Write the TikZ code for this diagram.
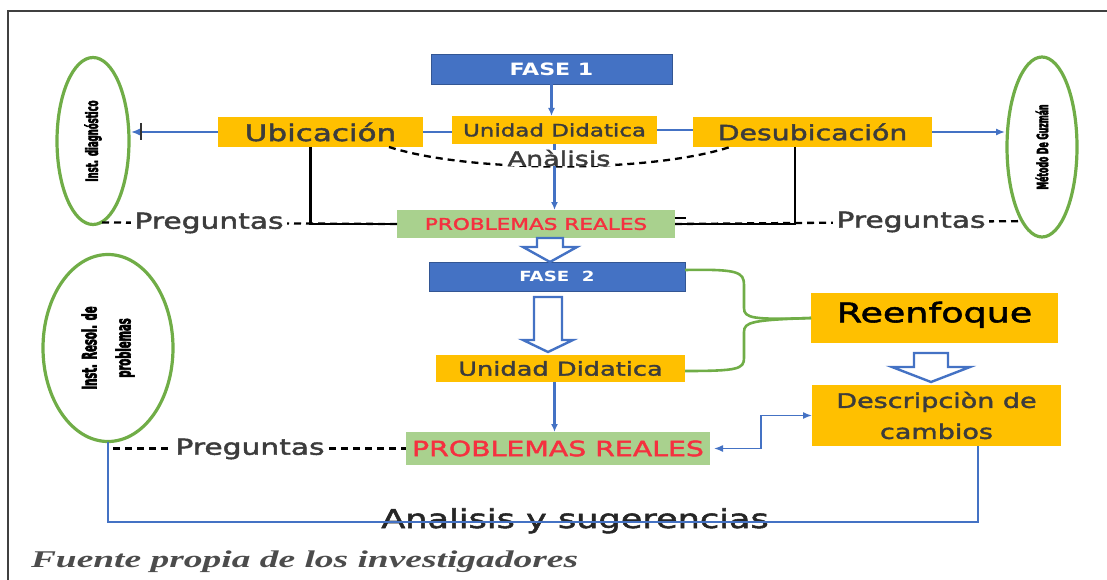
\documentclass[tikz,border=0pt]{standalone}
\usepackage{fontspec}
\usetikzlibrary{calc,arrows.meta,shapes.geometric}
\newfontfamily\wideF[FakeStretch=1.35,FakeBold=2]{DejaVu Sans}
\newfontfamily\wideB[FakeStretch=1.3]{DejaVu Sans Bold}
\newfontfamily\condF[FakeStretch=0.5,FakeBold=3]{DejaVu Sans Bold}
\newfontfamily\fuenteF[FakeStretch=1.56]{Liberation Serif Bold Italic}
\definecolor{oblue}{HTML}{4472C4}
\definecolor{oorange}{HTML}{FFC000}
\definecolor{ogreen}{HTML}{70AD47}
\definecolor{lgreen}{HTML}{A9D18E}
\definecolor{wgray}{HTML}{3C3C3C}
\definecolor{pred}{HTML}{F5303F}
\newcommand\hollowarrow[5]{%
  \draw[hollow] ($(#1)+(-#3,0)$) -- ($(#2)+(-#3,-#5)$) -- ($(#2)+(-#4,-#5)$) -- (#2)
    -- ($(#2)+(#4,-#5)$) -- ($(#2)+(#3,-#5)$) -- ($(#1)+(#3,0)$) -- cycle;}
\begin{document}
\begin{tikzpicture}[x=1pt,y=-1pt,
  every node/.style={inner sep=0pt,outer sep=0pt},
  faseb/.style={rectangle,fill=oblue,draw=oblue!75!black,line width=0.8pt,text=white},
  obox/.style={rectangle,fill=oorange,text=wgray},
  gbox/.style={rectangle,fill=lgreen,text=pred},
  oval/.style={ellipse,draw=ogreen,line width=3.2pt},
  ovaltext/.style={rotate=90,text=black,align=center},
  lbl/.style={text=wgray},
  bline/.style={draw=oblue,line width=2.4pt,-{Latex[length=8pt,width=7pt]}},
  thinb/.style={draw=oblue,line width=1.4pt},
  dline/.style={draw=black,line width=2.3pt,dash pattern=on 7pt off 5pt},
  kline/.style={draw=black,line width=2.6pt},
  gline/.style={draw=ogreen,line width=2.6pt},
  hollow/.style={draw=oblue,line width=2.4pt,fill=white,line join=miter}
]
\useasboundingbox (0,0) rectangle (1107,580);
\draw[line width=1.3pt,black!75] (8,580) -- (8,11) -- (1107,11);

% ellipses
\node[oval,minimum width=72,minimum height=167] (el1) at (93,141) {};
\node[ovaltext,font=\condF\fontsize{17}{19}\selectfont] (t1) at (el1.center) {Inst. diagnóstico};
\node[oval,minimum width=70,minimum height=180] (el2) at (1042,147) {};
\node[ovaltext,font=\condF\fontsize{15.5}{17}\selectfont] (t2) at (el2.center) {Método De Guzmán};
\node[oval,minimum width=130,minimum height=187] (el3) at (108,348) {};
\node[ovaltext,font=\condF\fontsize{20}{34}\selectfont] (t3) at (el3.center) {Inst. Resol. de\\problemas};

% boxes
\node[faseb,minimum width=241,minimum height=30,font=\wideB\fontsize{17}{20}\selectfont] (fase1) at (551.5,69) {FASE 1};
\node[obox,minimum width=205,minimum height=28,font=\wideF\fontsize{17}{20}\selectfont] (unid1) at (554.5,130) {Unidad Didatica};
\node[obox,minimum width=205,minimum height=30,font=\wideF\fontsize{23}{26}\selectfont] (ubic) at (320.5,132) {Ubicación};
\node[obox,minimum width=239,minimum height=30,font=\wideF\fontsize{21}{24}\selectfont] (desub) at (812.5,132) {Desubicación};
\node[gbox,minimum width=278,minimum height=28,font=\wideF\fontsize{16}{19}\selectfont] (prob1) at (536,224) {PROBLEMAS REALES};
\node[faseb,minimum width=256,minimum height=29,font=\wideB\fontsize{14}{17}\selectfont] (fase2) at (557,276.5) {FASE\ \ 2};
\node[obox,minimum width=249,minimum height=27,font=\wideF\fontsize{19}{22}\selectfont] (unid2) at (560.5,368.5) {Unidad Didatica};
\node[gbox,minimum width=304,minimum height=33,font=\wideF\fontsize{21}{24}\selectfont] (prob2) at (558,448.5) {PROBLEMAS REALES};
\node[obox,minimum width=247,minimum height=50,text depth=12pt,text=black,font=\wideF\fontsize{27}{30}\selectfont] (reenf) at (934.5,318) {Reenfoque};
\node[obox,minimum width=249,minimum height=61,align=center,font=\wideF\fontsize{20}{31}\selectfont] (desc) at (936.5,415.5) {Descripciòn de\\cambios};

% top connectors
\draw[bline] (fase1.south) -- (fase1.south |- unid1.north);
\draw[thinb] (ubic.east) -- (ubic.east -| unid1.west);
\draw[thinb] (unid1.east) -- (unid1.east -| desub.west);
\draw[thinb,-{Latex[length=9pt,width=7pt]},shorten >=2pt] (ubic.west) -- (ubic.west -| el1.east);
\coordinate (tk) at ($(ubic.west -| el1.east)+(12,0)$);
\draw[line width=1.5pt,black!80] ($(tk)+(0,-9)$) -- ($(tk)+(0,8)$);
\draw[thinb,-{Latex[length=9pt,width=7pt]},shorten >=2pt] (desub.east) -- (desub.east -| el2.west);

\draw[dline] ($(ubic.south east)+(-34,0)$) .. controls (470,173) and (650,173) .. ($(desub.south west)+(37,0)$);
\draw[bline] (unid1.south) -- (unid1.south |- prob1.north);
\node[lbl,fill=white,inner xsep=2pt,font=\wideF\fontsize{20}{23}\selectfont] (anal) at (559,158) {Anàlisis};

\draw[kline] ([xshift=-10pt]ubic.south) |- (prob1.west);
\draw[kline] ([xshift=-17.5pt]desub.south) |- (prob1.east);
\draw[kline] ([yshift=6pt]prob1.east) -- ++(11,0);
\draw[dline] ([xshift=9pt,yshift=2pt]el1.south) -- (prob1.west);
\draw[dline] (prob1.east) -- (el2.255);
\node[lbl,fill=white,inner xsep=3pt,font=\wideF\fontsize{22}{25}\selectfont] (preg1) at (209,223) {Preguntas};
\node[lbl,fill=white,inner xsep=3pt,font=\wideF\fontsize{22}{25}\selectfont] (preg2) at (911,222) {Preguntas};

% hollow arrows
\coordinate (h1s) at ($(prob1.south)+(14,0)$);
\coordinate (h1e) at (h1s |- fase2.north);
\hollowarrow{h1s}{h1e}{13}{27}{15}
\coordinate (h2s) at ($(fase2.south)+(-9,6)$);
\coordinate (h2e) at ($(h2s |- unid2.north)+(0,-3)$);
\hollowarrow{h2s}{h2e}{14}{25}{12}
\coordinate (h3s) at ($(reenf.south)+(-3.5,10)$);
\coordinate (h3e) at ($(h3s |- desc.north)+(0,-3)$);
\hollowarrow{h3s}{h3e}{17}{39}{15}

% brace
\draw[gline] ([yshift=6.5pt]fase2.east) .. controls (738,269) and (744,272) .. (744,285) -- (744,308) .. controls (744,318) and (752,320) .. (reenf.west);
\draw[gline] (reenf.west) .. controls (752,320) and (744,322) .. (744,332) -- (744,358) .. controls (744,369) and (738,371) .. ([yshift=-2.5pt]unid2.east);

% lower connectors
\coordinate (a2) at ($(unid2.south)+(-6,0)$);
\draw[bline] (a2) -- (a2 |- prob2.north);
\draw[dline] (el3.south) |- (prob2.west);
\node[lbl,fill=white,inner xsep=3pt,font=\wideF\fontsize{22}{25}\selectfont] (preg3) at (250,449) {Preguntas};
\coordinate (mid) at ($(prob2.east)!0.5!(desc.west)$);
\draw[thinb,{Latex[length=9pt,width=7pt]}-{Latex[length=9pt,width=7pt]},shorten <=4pt] (prob2.east) -| (mid) |- (desc.west);

\node[text=black!85,anchor=base,font=\wideF\fontsize{26}{29}\selectfont] (sug) at (575,528) {Analisis y sugerencias};
\coordinate (ab) at ($(sug.base)+(0,-6)$);
\coordinate (dsb) at ($(desc.south)+(41.5,0)$);
\draw[thinb] (el3.south) |- (ab) -| (dsb);

\node[text=black!70,anchor=base west,font=\fuenteF\fontsize{24}{28}\selectfont] (fuente) at (31,567) {Fuente propia de los investigadores};
\end{tikzpicture}
\end{document}
